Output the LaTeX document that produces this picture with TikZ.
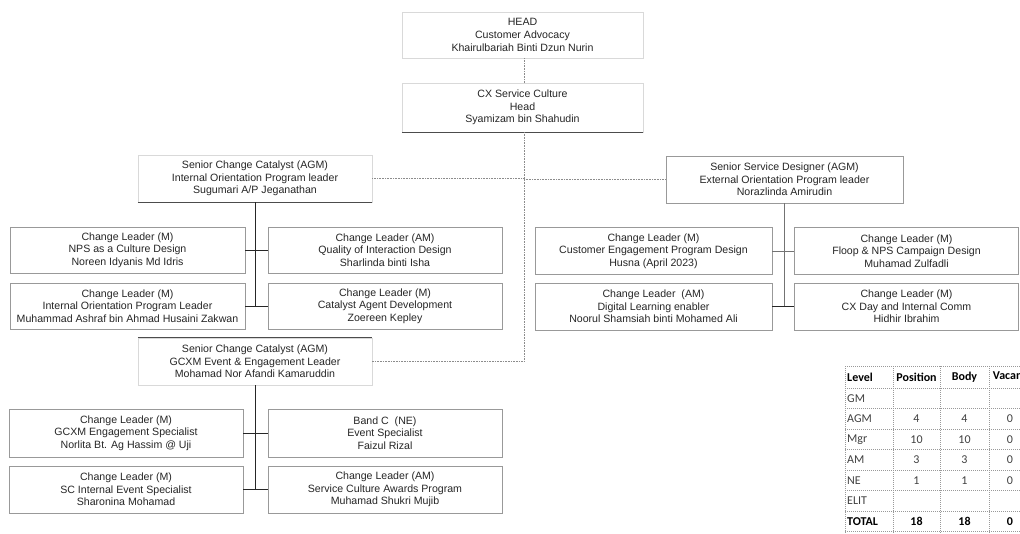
\documentclass[tikz,border=0pt]{standalone}
\usepackage{fontspec}
\setmainfont{Liberation Sans}
\newfontfamily\tabfont{Carlito}
\begin{document}
\begin{tikzpicture}[x=1pt,y=-1pt,
  box/.style={draw=black!40, line width=0.5pt, align=center, inner sep=0pt,
    font=\fontsize{10.6}{12.6}\selectfont, text=black!85},
  faint/.style={draw=black!15},
  edge/.style={draw=black!70, line width=0.7pt},
  link/.style={draw=black!85, line width=0.7pt},
  spine/.style={draw=black!45, line width=0.5pt, dash pattern=on 1pt off 0.6pt},
  grid/.style={draw=black!40, line width=0.4pt, dash pattern=on 1pt off 1pt},
  cell/.style={inner sep=0pt, text=black!75, font=\tabfont\fontsize{12}{14}\selectfont},
  hcell/.style={inner sep=0pt, text=black, font=\tabfont\bfseries\fontsize{12}{14}\selectfont},
]
\useasboundingbox (0,0) rectangle (1020,533);
\fill[white] (0,0) rectangle (1020,533);

% top level
\node[box, faint, minimum width=241pt, minimum height=46pt] (head) at (522.5,35)
  {HEAD\\Customer Advocacy\\Khairulbariah Binti Dzun Nurin};
\node[box, faint, minimum width=241pt, minimum height=49pt] (cx) at (522.5,107.5)
  {CX Service Culture\\Head\\Syamizam bin Shahudin};
\draw[edge] (cx.south west) -- (cx.south east);

% AGMs
\node[box, faint, minimum width=234pt, minimum height=47pt] (agmL) at (255,178.5)
  {Senior Change Catalyst (AGM)\\Internal Orientation Program leader\\Sugumari A/P Jeganathan};
\draw[edge] (agmL.south west) -- (agmL.south east);
\node[box, minimum width=237pt, minimum height=47pt] (agmR) at (784.5,179.5)
  {Senior Service Designer (AGM)\\External Orientation Program leader\\Norazlinda Amirudin};
\node[box, faint, minimum width=234pt, minimum height=47pt] (agmG) at (255,361.5)
  {Senior Change Catalyst (AGM)\\GCXM Event \& Engagement Leader\\Mohamad Nor Afandi Kamaruddin};
\draw[edge] (agmG.north west) -- (agmG.north east);

% left group
\node[box, minimum width=235pt, minimum height=46pt] (nps) at (127.5,250)
  {Change Leader (M)\\NPS as a Culture Design\\Noreen Idyanis Md Idris};
\node[box, minimum width=234pt, minimum height=46pt] (qual) at (385,250)
  {Change Leader (AM)\\Quality of Interaction Design\\Sharlinda binti Isha};
\node[box, minimum width=235pt, minimum height=46pt] (intor) at (127.5,306)
  {Change Leader (M)\\Internal Orientation Program Leader\\Muhammad Ashraf bin Ahmad Husaini Zakwan};
\node[box, minimum width=234pt, minimum height=46pt] (cat) at (385,306)
  {Change Leader (M)\\Catalyst Agent Development\\Zoereen Kepley};

% right group
\node[box, minimum width=237pt, minimum height=47pt] (cust) at (653.5,251)
  {Change Leader (M)\\Customer Engagement Program Design\\Husna (April 2023)};
\node[box, minimum width=224pt, minimum height=47pt] (floop) at (906.5,251)
  {Change Leader (M)\\Floop \& NPS Campaign Design\\Muhamad Zulfadli};
\node[box, minimum width=237pt, minimum height=47pt] (dig) at (653.5,306.5)
  {Change Leader\ \ (AM)\\Digital Learning enabler\\Noorul Shamsiah binti Mohamed Ali};
\node[box, minimum width=224pt, minimum height=47pt] (cxday) at (906.5,306.5)
  {Change Leader (M)\\CX Day and Internal Comm\\Hidhir Ibrahim};

% bottom group
\node[box, minimum width=234pt, minimum height=48pt] (gceng) at (126,433)
  {Change Leader (M)\\GCXM Engagement Specialist\\Norlita Bt. Ag Hassim @ Uji};
\node[box, minimum width=234pt, minimum height=48pt] (band) at (385,433)
  {Band C\ \ (NE)\\Event Specialist\\Faizul Rizal};
\node[box, minimum width=234pt, minimum height=47pt] (scint) at (126,489.5)
  {Change Leader (M)\\SC Internal Event Specialist\\Sharonina Mohamad};
\node[box, minimum width=234pt, minimum height=47pt] (award) at (385,489.5)
  {Change Leader (AM)\\Service Culture Awards Program\\Muhamad Shukri Mujib};

% spine
\coordinate (sp) at (524,132);
\draw[spine] (head.south -| sp) -- (cx.north -| sp);
\draw[spine] (sp) -- (sp |- agmG.east) -- (agmG.east);
\draw[spine] (agmL.east) -- (sp |- agmL.east);
\draw[spine] (sp |- agmR.west) -- (agmR.west);

% left group connectors
\draw[link] (agmL.south) -- (agmL.south |- intor.east);
\draw[link] (nps.east) -- (qual.west);
\draw[link] (intor.east) -- (cat.west);

% right group connectors
\draw[link, draw=black!55] (agmR.south) -- (agmR.south |- dig.east);
\draw[link, draw=black!55] (cust.east) -- (floop.west);
\draw[link] (dig.east) -- (cxday.west);

% bottom group connectors
\draw[link] (agmG.south) -- (agmG.south |- scint.east);
\draw[link] (gceng.east) -- (band.west);
\draw[link] (scint.east) -- (award.west);

% table
\begin{scope}
\clip (840,360) rectangle (1020,533);
\foreach \y in {366,388,408.5,429,449.5,470,490.5,511,531.5}
  \draw[grid] (845,\y) -- (1040,\y);
\foreach \x in {845,893,940,989}
  \draw[grid] (\x,366) -- (\x,533);
\node[hcell, anchor=west] (tLevel) at (847,377) {Level};
\node[hcell] (tPos) at (916.5,377) {Position};
\node[hcell] (tBody) at (964.5,377) {Body};
\node[hcell] (tVac) at (1013,377) {Vacancy};
\node[cell, anchor=west] (tGM) at (847,398.2) {GM};
\node[cell, anchor=west] (tAGM) at (847,418.7) {AGM};
\node[cell] (pAGM) at (916.5,418.7) {4};
\node[cell] (bAGM) at (964.5,418.7) {4};
\node[cell] (vAGM) at (1010,418.7) {0};
\node[cell, anchor=west] (tMgr) at (847,439.2) {Mgr};
\node[cell] (pMgr) at (916.5,439.2) {10};
\node[cell] (bMgr) at (964.5,439.2) {10};
\node[cell] (vMgr) at (1010,439.2) {0};
\node[cell, anchor=west] (tAM) at (847,459.7) {AM};
\node[cell] (pAM) at (916.5,459.7) {3};
\node[cell] (bAM) at (964.5,459.7) {3};
\node[cell] (vAM) at (1010,459.7) {0};
\node[cell, anchor=west] (tNE) at (847,480.2) {NE};
\node[cell] (pNE) at (916.5,480.2) {1};
\node[cell] (bNE) at (964.5,480.2) {1};
\node[cell] (vNE) at (1010,480.2) {0};
\node[cell, anchor=west] (tELIT) at (847,500.7) {ELIT};
\node[hcell, anchor=west] (tTOT) at (847,521.2) {TOTAL};
\node[hcell] (pTOT) at (916.5,521.2) {18};
\node[hcell] (bTOT) at (964.5,521.2) {18};
\node[hcell] (vTOT) at (1010,521.2) {0};
\end{scope}
\end{tikzpicture}
\end{document}
